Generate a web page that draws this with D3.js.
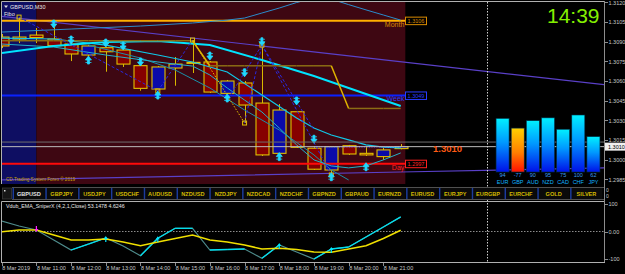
<!DOCTYPE html>
<html>
<head>
<meta charset="utf-8">
<script src="https://cdn.jsdelivr.net/npm/d3@7"></script>
<style>
  body { margin: 0; background: #000; overflow: hidden; }
  svg { display: block; }
  text { font-family: "Liberation Sans", Arial, sans-serif; }
  .axis path, .axis line { stroke: #8c8c8c; shape-rendering: crispEdges; }
  .axis text { fill: #c8c8c8; font-size: 5.5px; }
</style>
</head>
<body>
<script>
var svgWidth = 625;
var svgHeight = 274;

// GBPUSD M30 candles, 8 Mar 2019
var candleTimes = ["10:00", "10:30", "11:00", "11:30", "12:00", "12:30", "13:00", "13:30",
    "14:00", "14:30", "15:00", "15:30", "16:00", "16:30", "17:00", "17:30",
    "18:00", "18:30", "19:00", "19:30", "20:00", "20:30", "21:00", "21:30"];
var openP  = [1.30935, 1.30935, 1.30950, 1.30920, 1.30882, 1.30798, 1.30854, 1.30836, 1.30717, 1.30539, 1.30699, 1.30741,
              1.30745, 1.30506, 1.30585, 1.30432, 1.30049, 1.30366, 1.30088, 1.29922, 1.30107, 1.30049, 1.30024, 1.30085];
var highP  = [1.30958, 1.31087, 1.31004, 1.31011, 1.30889, 1.30874, 1.30859, 1.30844, 1.30729, 1.30714, 1.30783, 1.30912,
              1.30752, 1.30608, 1.30600, 1.30874, 1.30425, 1.30372, 1.30097, 1.30105, 1.30113, 1.30105, 1.30090, 1.30120];
var lowP   = [1.30851, 1.30889, 1.30889, 1.30867, 1.30752, 1.30790, 1.30671, 1.30707, 1.30526, 1.30524, 1.30564, 1.30661,
              1.30509, 1.30501, 1.30280, 1.30029, 1.30037, 1.30090, 1.29922, 1.29884, 1.30037, 1.30029, 1.29999, 1.30080];
var closeP = [1.30867, 1.30920, 1.30931, 1.30869, 1.30806, 1.30867, 1.30823, 1.30729, 1.30544, 1.30707, 1.30729, 1.30742,
              1.30516, 1.30600, 1.30417, 1.30037, 1.30379, 1.30095, 1.29928, 1.30100, 1.30044, 1.30037, 1.30075, 1.30100];

// moving averages / bands (candle index, price)
var slowMaIdx = [0, 3, 6, 9, 12, 15, 18, 21, 23];
var slowMa    = [1.30813, 1.30867, 1.30897, 1.30905, 1.30874, 1.30760, 1.30638, 1.30501, 1.30410];
var midMaIdx  = [0, 3, 6, 9, 11, 13, 15, 17, 18, 19, 20, 21, 22, 23];
var midMa     = [1.30927, 1.30920, 1.30874, 1.30798, 1.30745, 1.30669, 1.30493, 1.30318, 1.30242, 1.30189, 1.30151, 1.30113, 1.30097, 1.30090];
var fastMaIdx = [0, 3, 6, 9, 10, 11, 12, 13, 14, 15, 16, 17, 18, 19, 20, 21, 22, 23];
var fastMa    = [1.30882, 1.30859, 1.30798, 1.30745, 1.30729, 1.30714, 1.30646, 1.30547, 1.30455, 1.30364, 1.30242, 1.30113,
                 1.29999, 1.29953, 1.29938, 1.29953, 1.29999, 1.30052];
var steepIdx  = [5, 8, 10, 12, 14, 16, 18, 19, 20];
var steep     = [1.30874, 1.30775, 1.30684, 1.30547, 1.30379, 1.30227, 1.30037, 1.29922, 1.29846];
var bandTopIdx = [0, 4, 8, 11, 13, 14, 15, 16, 17, 18, 19, 20, 21, 22, 23];
var bandTop    = [1.30973, 1.30996, 1.31019, 1.31042, 1.31064, 1.31080, 1.31118, 1.31156, 1.31198, 1.31232, 1.31224,
                  1.31182, 1.31142, 1.31103, 1.31064];
var stepLine = [1.30907, 1.30907, 1.30907, 1.30907, 1.30907, 1.30907, 1.30907, 1.30907, 1.30907, 1.30907, 1.30907, 1.30907,
                1.30716, 1.30716, 1.30716, 1.30716, 1.30716, 1.30716, 1.30716, 1.30716, 1.30391, 1.30391, 1.30391, 1.30391];

// regression channel (time, price)
var channelTopTimes = ["2019-03-08 10:00", "2019-03-09 03:25"];
var channelTop      = [1.31092, 1.30570];
var channelBotTimes = ["2019-03-08 10:00", "2019-03-08 21:30", "2019-03-09 03:25"];
var channelBot      = [1.29846, 1.29907, 1.29938];

// zigzag and fan
var zigzagIdx   = [1, 9, 11, 14, 15, 19];
var zigzagPrice = [1.31087, 1.30524, 1.30912, 1.30280, 1.30874, 1.29884];
var fanIdx   = [13, 18];
var fanPrice = [1.30455, 1.30227];

// fractal arrows
var arrowDownIdx   = [3, 4, 6, 7, 8, 12, 14, 15, 17, 18];
var arrowDownPrice = [1.31034, 1.30912, 1.30889, 1.30867, 1.30745, 1.30790, 1.30663, 1.30899, 1.30448, 1.30156];
var arrowUpIdx     = [5, 9, 13, 16, 19, 21];
var arrowUpPrice   = [1.30760, 1.30493, 1.30471, 1.30024, 1.29871, 1.29947];

// pivot levels
var levelNames  = ["Month", "Week", "Day"];
var levelPrices = [1.3106, 1.3049, 1.2997];
var bidPrice = 1.3010;
var askPrice = 1.30135;

// sessions
var sessionTimes = [["2019-03-08 09:00", "2019-03-08 11:00"], ["2019-03-08 11:00", "2019-03-08 21:38"]];
var dayBreak = "2019-03-09 00:00";

// Vdub_EMA_SniperX
var sniperFast = [38.2, 20, 5.5, -30.9, -67.3, -45.5, -23.6, -52.7, -88, -24.7, 11.6, 11.6,
                  -67.3, -65.5, -63.6, -97.5, -49.1, -74.5, -100, -63.6, -56.4, -20, 16.4, 53.1];
var sniperSlow = [-0.7, 5.5, 5.5, -12.7, -30.9, -30.9, -27.3, -38.2, -51.6, -38.2, -25.5, -12.7,
                  -30.9, -38.2, -49.1, -63.6, -61.1, -65.5, -74.5, -75.6, -63.6, -51.6, -25.5, 4.6];
var sniperBuyIdx  = [6, 9, 16, 19];
var sniperSellIdx = [2];

// axis ticks
var priceTicks = [1.2985, 1.3000, 1.3015, 1.3030, 1.3045, 1.3060, 1.3075, 1.3090, 1.3105, 1.3120];
var timeTicks = ["10:00", "11:00", "12:00", "13:00", "14:00", "15:00", "16:00", "17:00", "18:00", "19:00", "20:00", "21:00"];
var timeTickLabels = ["8 Mar 2019", "8 Mar 11:00", "8 Mar 12:00", "8 Mar 13:00", "8 Mar 14:00", "8 Mar 15:00",
                      "8 Mar 16:00", "8 Mar 17:00", "8 Mar 18:00", "8 Mar 19:00", "8 Mar 20:00", "8 Mar 21:00"];
var subTicks = [100, 0, -100];
var subTickLabels = ["100", "0.00", "-100"];

var pairButtons = ["GBPUSD", "GBPJPY", "USDJPY", "USDCHF", "AUDUSD", "NZDUSD", "NZDJPY", "NZDCAD", "NZDCHF",
                   "GBPNZD", "GBPAUD", "EURNZD", "EURUSD", "EURJPY", "EURGBP", "EURCHF", "GOLD", "SILVER"];

// currency strength meter
var currencies = ["EUR", "GBP", "AUD", "NZD", "CAD", "CHF", "JPY"];
var strength = [94, -77, 90, 95, 75, 100, 62];

var parseTime = d3.timeParse("%Y-%m-%d %H:%M");
function candleDate(s) { return parseTime("2019-03-08 " + s); }

var svg = d3.select("body").append("svg")
    .attr("width", svgWidth)
    .attr("height", svgHeight);

var main = { left: 2, right: 604, top: 2, bottom: 184 };
var sub = { top: 201, bottom: 262 };

var xTime = d3.scaleTime()
    .domain([candleDate("10:00"), candleDate("21:30")])
    .range([1.7, 400.7]);
var yMain = d3.scaleLinear().domain([1.29823, 1.31202]).range([183, 2]);
var ySub = d3.scaleLinear().domain([-100, 100]).range([259, 204]);

function xIdx(i) { return xTime(candleDate(candleTimes[i])); }

var defs = svg.append("defs");
defs.append("clipPath").attr("id", "clipMain").append("rect")
    .attr("x", main.left).attr("y", main.top)
    .attr("width", main.right - main.left).attr("height", main.bottom - main.top);
defs.append("clipPath").attr("id", "clipSub").append("rect")
    .attr("x", main.left).attr("y", sub.top + 1)
    .attr("width", main.right - main.left).attr("height", sub.bottom - sub.top - 1);

var gUp = defs.append("linearGradient").attr("id", "barUp").attr("x1", 0).attr("y1", 0).attr("x2", 0).attr("y2", 1);
gUp.append("stop").attr("offset", "0%").attr("stop-color", "#00f0ff");
gUp.append("stop").attr("offset", "45%").attr("stop-color", "#0098ff");
gUp.append("stop").attr("offset", "100%").attr("stop-color", "#0010e8");
var gDn = defs.append("linearGradient").attr("id", "barDown").attr("x1", 0).attr("y1", 0).attr("x2", 0).attr("y2", 1);
gDn.append("stop").attr("offset", "0%").attr("stop-color", "#ffd000");
gDn.append("stop").attr("offset", "55%").attr("stop-color", "#ff8000");
gDn.append("stop").attr("offset", "100%").attr("stop-color", "#ff1000");

svg.append("rect").attr("width", svgWidth).attr("height", svgHeight).attr("fill", "#000");

var chart = svg.append("g").attr("clip-path", "url(#clipMain)");

// session backgrounds
var sessionColors = ["#0e0e62", "#3e0712"];
chart.selectAll(".session")
    .data(sessionTimes)
    .enter()
    .append("rect")
    .attr("x", d => xTime(parseTime(d[0])))
    .attr("y", main.top)
    .attr("width", d => xTime(parseTime(d[1])) - xTime(parseTime(d[0])))
    .attr("height", main.bottom - main.top)
    .attr("fill", (d, i) => sessionColors[i]);

var line = d3.line().x(d => d[0]).y(d => d[1]);

// regression channel
chart.append("path")
    .attr("d", line(channelTopTimes.map((t, i) => [xTime(parseTime(t)), yMain(channelTop[i])])))
    .attr("fill", "none").attr("stroke", "#5a40c8").attr("stroke-width", 1.2);
chart.append("path")
    .attr("d", line(channelBotTimes.map((t, i) => [xTime(parseTime(t)), yMain(channelBot[i])])))
    .attr("fill", "none").attr("stroke", "#5a40c8").attr("stroke-width", 1.2);

// candles
var candles = chart.selectAll(".candle")
    .data(candleTimes)
    .enter()
    .append("g");

candles.append("line")
    .attr("x1", (d, i) => Math.round(xIdx(i)) + 0.5)
    .attr("x2", (d, i) => Math.round(xIdx(i)) + 0.5)
    .attr("y1", (d, i) => yMain(highP[i]))
    .attr("y2", (d, i) => yMain(lowP[i]))
    .attr("stroke", "#d8b800").attr("stroke-width", 1);

candles.append("rect")
    .attr("x", (d, i) => Math.round(xIdx(i)) - 6)
    .attr("width", 13)
    .attr("y", (d, i) => yMain(Math.max(openP[i], closeP[i])))
    .attr("height", (d, i) => Math.max(1, yMain(Math.min(openP[i], closeP[i])) - yMain(Math.max(openP[i], closeP[i]))))
    .attr("fill", (d, i) => closeP[i] >= openP[i] ? "#0a0aa8" : "#860000")
    .attr("stroke", "#e0c000").attr("stroke-width", 1.1);

// pivot level lines
var levelColors = ["#ffb000", "#0a22ff", "#ff0a0a"];
var levelTextColors = ["#d88a00", "#2a3cff", "#ff2020"];
var levelEnd = xTime(parseTime(sessionTimes[1][1]));
chart.selectAll(".level")
    .data(levelPrices)
    .enter()
    .append("line")
    .attr("x1", main.left).attr("x2", levelEnd)
    .attr("y1", d => yMain(d)).attr("y2", d => yMain(d))
    .attr("stroke", (d, i) => levelColors[i]).attr("stroke-width", 2);

// upper band
chart.append("path")
    .attr("d", line(bandTopIdx.map((k, i) => [xIdx(k), yMain(bandTop[i])])))
    .attr("fill", "none").attr("stroke", "#2a8ccc").attr("stroke-width", 1);

// moving averages
chart.append("path")
    .attr("d", line(steepIdx.map((k, i) => [xIdx(k), yMain(steep[i])])))
    .attr("fill", "none").attr("stroke", "#1a90a8").attr("stroke-width", 1);
chart.append("path")
    .attr("d", line(fastMaIdx.map((k, i) => [xIdx(k), yMain(fastMa[i])])))
    .attr("fill", "none").attr("stroke", "#22b0c8").attr("stroke-width", 1);
chart.append("path")
    .attr("d", line(midMaIdx.map((k, i) => [xIdx(k), yMain(midMa[i])])))
    .attr("fill", "none").attr("stroke", "#10c8e8").attr("stroke-width", 1.2);
chart.append("path")
    .attr("d", line(slowMaIdx.map((k, i) => [xIdx(k), yMain(slowMa[i])])))
    .attr("fill", "none").attr("stroke", "#00e4ff").attr("stroke-width", 2);

// step line
stepLine.forEach(function(p, i) {
    if (i === 0) return;
    chart.append("line")
        .attr("x1", xIdx(i - 1)).attr("y1", yMain(stepLine[i - 1]))
        .attr("x2", xIdx(i)).attr("y2", yMain(p))
        .attr("stroke", p === stepLine[i - 1] ? "#8c6c14" : "#e0b400")
        .attr("stroke-width", 1.5);
});

// zigzag
zigzagIdx.forEach(function(k, i) {
    if (i === 0) return;
    var yellowLeg = (i === 3);
    chart.append("line")
        .attr("x1", xIdx(zigzagIdx[i - 1])).attr("y1", yMain(zigzagPrice[i - 1]))
        .attr("x2", xIdx(k)).attr("y2", yMain(zigzagPrice[i]))
        .attr("stroke", yellowLeg ? "#e0c000" : "#2a2ae0")
        .attr("stroke-width", 1)
        .attr("stroke-dasharray", yellowLeg ? "1.5,1.5" : "3,2");
});
fanIdx.forEach(function(k, i) {
    chart.append("line")
        .attr("x1", xIdx(15)).attr("y1", yMain(zigzagPrice[4]))
        .attr("x2", xIdx(k)).attr("y2", yMain(fanPrice[i]))
        .attr("stroke", "#2a2ae0").attr("stroke-width", 1).attr("stroke-dasharray", "3,2");
});
chart.append("line")
    .attr("x1", xIdx(18)).attr("x2", xIdx(23))
    .attr("y1", yMain(bidPrice)).attr("y2", yMain(bidPrice))
    .attr("stroke", "#2a3cff").attr("stroke-width", 1.5).attr("stroke-dasharray", "1,1.5");
chart.selectAll(".pivot")
    .data(zigzagIdx)
    .enter()
    .append("rect")
    .attr("x", d => xIdx(d) - 2).attr("width", 4)
    .attr("y", (d, i) => yMain(zigzagPrice[i]) - 2).attr("height", 4)
    .attr("fill", "none").attr("stroke", "#e0c000").attr("stroke-width", 1);

// fractal arrows
var arrowShape = "M-1,-4L1,-4L1,0L3,0L0,4L-3,0L-1,0Z M-3,-2.5L3,-2.5";
chart.selectAll(".arrowDown")
    .data(arrowDownIdx)
    .enter()
    .append("path")
    .attr("d", arrowShape)
    .attr("transform", (d, i) => `translate(${xIdx(d)}, ${yMain(arrowDownPrice[i])})`)
    .attr("fill", "#20d8ff").attr("stroke", "#20d8ff").attr("stroke-width", 0.8);
chart.selectAll(".arrowUp")
    .data(arrowUpIdx)
    .enter()
    .append("path")
    .attr("d", arrowShape)
    .attr("transform", (d, i) => `translate(${xIdx(d)}, ${yMain(arrowUpPrice[i])}) scale(1,-1)`)
    .attr("fill", "#20d8ff").attr("stroke", "#20d8ff").attr("stroke-width", 0.8);

// bid / ask lines
svg.append("line")
    .attr("x1", main.left).attr("x2", main.right)
    .attr("y1", yMain(askPrice)).attr("y2", yMain(askPrice))
    .attr("stroke", "#6e6e6e").attr("stroke-width", 1);
svg.append("line")
    .attr("x1", main.left).attr("x2", main.right)
    .attr("y1", yMain(bidPrice)).attr("y2", yMain(bidPrice))
    .attr("stroke", "#bcbcbc").attr("stroke-width", 1);

// level labels and price boxes
levelNames.forEach(function(name, i) {
    var y = yMain(levelPrices[i]);
    svg.append("text")
        .attr("x", levelEnd - 1).attr("y", y + 6)
        .attr("text-anchor", "end")
        .attr("font-size", "7px")
        .attr("fill", levelTextColors[i])
        .text(name);
    svg.append("rect")
        .attr("x", 405.5).attr("y", y - 3.5)
        .attr("width", 21).attr("height", 7.5)
        .attr("fill", "#000").attr("stroke", levelTextColors[i]).attr("stroke-width", 1);
    svg.append("text")
        .attr("x", 416).attr("y", y + 2.2)
        .attr("text-anchor", "middle")
        .attr("font-size", "5.5px")
        .attr("fill", levelTextColors[i])
        .text(levelPrices[i].toFixed(4));
});

// current price text
svg.append("text")
    .attr("x", 433).attr("y", yMain(bidPrice) + 5)
    .attr("font-size", "9.5px").attr("font-weight", "bold")
    .attr("fill", "#ff5a14")
    .text(bidPrice.toFixed(4));

// currency strength meter
var xBar = d3.scaleBand().domain(currencies).range([495, 601]).paddingInner(0.14).paddingOuter(0.07);
var hBar = d3.scaleLinear().domain([0, 100]).range([0, 57]);
var barBase = 172;
svg.selectAll(".bar")
    .data(currencies)
    .enter()
    .append("rect")
    .attr("x", d => xBar(d))
    .attr("width", xBar.bandwidth())
    .attr("y", (d, i) => barBase - hBar(Math.abs(strength[i])))
    .attr("height", (d, i) => hBar(Math.abs(strength[i])))
    .attr("fill", (d, i) => strength[i] < 0 ? "url(#barDown)" : "url(#barUp)")
    .attr("stroke", "#003048").attr("stroke-width", 0.6);
svg.selectAll(".barValue")
    .data(currencies)
    .enter()
    .append("text")
    .attr("x", d => xBar(d) + xBar.bandwidth() / 2)
    .attr("y", 176.5)
    .attr("text-anchor", "middle")
    .attr("font-size", "5.5px")
    .attr("fill", "#3a9cf0")
    .text((d, i) => strength[i]);
svg.selectAll(".barName")
    .data(currencies)
    .enter()
    .append("text")
    .attr("x", d => xBar(d) + xBar.bandwidth() / 2)
    .attr("y", 184)
    .attr("text-anchor", "middle")
    .attr("font-size", "5.5px")
    .attr("fill", "#10b4ff")
    .text(d => d);

// clock
svg.append("text")
    .attr("x", 547).attr("y", 23)
    .attr("font-size", "21px")
    .attr("fill", "#84f000")
    .text("14:39");

// day separator
svg.append("line")
    .attr("x1", Math.round(xTime(parseTime(dayBreak))) + 0.5)
    .attr("x2", Math.round(xTime(parseTime(dayBreak))) + 0.5)
    .attr("y1", main.top).attr("y2", sub.bottom)
    .attr("stroke", "#d0d0d0").attr("stroke-width", 1).attr("stroke-dasharray", "1.5,1.5");

// chart titles
svg.append("path").attr("d", "M4,5.5L8,5.5L6,8Z").attr("fill", "#e0e0e0");
svg.append("text").attr("x", 10).attr("y", 8.5).attr("font-size", "5.5px").attr("fill", "#e8e8e8").text("GBPUSD,M30");
svg.append("text").attr("x", 4).attr("y", 15.5).attr("font-size", "5.5px").attr("fill", "#e8e8e8").text("Fibo");
svg.append("text").attr("x", 6).attr("y", 181).attr("font-size", "4.6px").attr("fill", "#c8a000")
    .text("CD.Trading System Forex © 2019");

// pair buttons
var btnStep = 32.8;
svg.append("rect").attr("x", 2.5).attr("y", 188).attr("width", 9).attr("height", 11)
    .attr("fill", "#161616").attr("stroke", "#3a3a3a").attr("stroke-width", 0.8);
svg.append("rect").attr("x", 4).attr("y", 190).attr("width", 1.5).attr("height", 1.5).attr("fill", "#e0e0e0");
svg.append("line").attr("x1", 12).attr("x2", 604).attr("y1", 187.5).attr("y2", 187.5).attr("stroke", "#505050");
svg.append("line").attr("x1", 12).attr("x2", 604).attr("y1", 199.5).attr("y2", 199.5).attr("stroke", "#505050");
var buttons = svg.selectAll(".btn")
    .data(pairButtons)
    .enter()
    .append("g")
    .attr("transform", (d, i) => `translate(${12.5 + i * btnStep}, 188)`);
buttons.append("rect")
    .attr("x", 1.5).attr("y", 0).attr("width", btnStep - 2).attr("height", 11)
    .attr("fill", "#0a0a0a");
buttons.append("rect")
    .attr("x", 0).attr("y", 0).attr("width", 1.5).attr("height", 11)
    .attr("fill", "#1c3c9c");
buttons.append("text")
    .attr("x", btnStep / 2).attr("y", 7.8)
    .attr("text-anchor", "middle")
    .attr("font-size", "5.6px").attr("font-weight", "bold")
    .attr("fill", (d, i) => i === 0 ? "#e0e0e0" : "#d2ba00")
    .text(d => d);
svg.append("text").attr("x", 606).attr("y", 192).attr("font-size", "5px").attr("fill", "#c8c8c8").text("0");
svg.append("text").attr("x", 606).attr("y", 197.5).attr("font-size", "5px").attr("fill", "#c8c8c8").text("0");

// frames
svg.append("path").attr("d", `M1.5,${main.bottom} V1.5 H${main.right}`)
    .attr("fill", "none").attr("stroke", "#b0b0b0").attr("stroke-width", 1);
svg.append("path").attr("d", `M1.5,${sub.bottom} V${sub.top + 0.5} H${main.right}`)
    .attr("fill", "none").attr("stroke", "#b0b0b0").attr("stroke-width", 1);
svg.append("line").attr("x1", main.right + 0.5).attr("x2", main.right + 0.5).attr("y1", 1).attr("y2", sub.bottom + 0.5)
    .attr("stroke", "#8c8c8c");

// price axis
var priceAxis = d3.axisRight(yMain)
    .tickValues(priceTicks)
    .tickSize(3)
    .tickSizeOuter(0)
    .tickFormat(d3.format(".4f"));
var pAxis = svg.append("g")
    .attr("class", "axis")
    .attr("transform", `translate(${main.right + 0.5}, 0)`)
    .call(priceAxis);
pAxis.select(".domain").remove();
pAxis.selectAll("text").attr("x", 4);

// bid box on axis
svg.append("rect").attr("x", main.right + 1).attr("y", yMain(bidPrice) - 4)
    .attr("width", 20).attr("height", 8).attr("fill", "#f0f0f0");
svg.append("text").attr("x", main.right + 4).attr("y", yMain(bidPrice) + 2)
    .attr("font-size", "5.5px").attr("fill", "#000").text(bidPrice.toFixed(4));

// sub window
var subG = svg.append("g").attr("clip-path", "url(#clipSub)");
subG.append("line")
    .attr("x1", main.left).attr("x2", main.right)
    .attr("y1", ySub(0)).attr("y2", ySub(0))
    .attr("stroke", "#8c8c8c").attr("stroke-dasharray", "1.5,1.5");

var slowPts = sniperSlow.map((v, i) => [xIdx(i), ySub(v)]);
var fastPts = sniperFast.map((v, i) => [xIdx(i), ySub(v)]);
subG.append("path").attr("d", line(fastPts))
    .attr("fill", "none").attr("stroke", "#4e8c8c").attr("stroke-width", 1.2);
fastPts.forEach(function(p, i) {
    if (i === 0 || sniperFast[i] < sniperFast[i - 1]) return;
    subG.append("line")
        .attr("x1", fastPts[i - 1][0]).attr("y1", fastPts[i - 1][1])
        .attr("x2", p[0]).attr("y2", p[1])
        .attr("stroke", "#00e0f0").attr("stroke-width", 1.3);
});
subG.append("path").attr("d", line(slowPts))
    .attr("fill", "none").attr("stroke", "#f0e000").attr("stroke-width", 1.5);

var smallArrow = "M-0.6,-3L0.6,-3L0.6,0L2,0L0,3L-2,0L-0.6,0Z";
subG.selectAll(".buy")
    .data(sniperBuyIdx)
    .enter()
    .append("path")
    .attr("d", smallArrow)
    .attr("transform", d => `translate(${xIdx(d)}, ${ySub(sniperFast[d]) + 1}) scale(1,-1)`)
    .attr("fill", "#00e8ff");
subG.selectAll(".sell")
    .data(sniperSellIdx)
    .enter()
    .append("path")
    .attr("d", smallArrow)
    .attr("transform", d => `translate(${xIdx(d)}, ${ySub(sniperFast[d]) - 1})`)
    .attr("fill", "#ff20ff");

svg.append("text").attr("x", 6).attr("y", 208).attr("font-size", "5.3px").attr("fill", "#e8e8e8")
    .text("Vdub_EMA_SniperX (4,2,1,Close) 53.1478 4.6246");

var subAxis = d3.axisRight(ySub)
    .tickValues(subTicks)
    .tickSize(3)
    .tickFormat((d, i) => subTickLabels[i]);
var sAxis = svg.append("g")
    .attr("class", "axis")
    .attr("transform", `translate(${main.right + 0.5}, 0)`)
    .call(subAxis);
sAxis.select(".domain").remove();
sAxis.selectAll("text").attr("x", 4);

// time axis
svg.append("line").attr("x1", 1).attr("x2", main.right + 1).attr("y1", sub.bottom + 0.5).attr("y2", sub.bottom + 0.5)
    .attr("stroke", "#b0b0b0");
var timeAxis = d3.axisBottom(xTime)
    .tickValues(timeTicks.map(candleDate))
    .tickSize(3)
    .tickFormat((d, i) => timeTickLabels[i]);
var tAxis = svg.append("g")
    .attr("class", "axis")
    .attr("transform", `translate(0, ${sub.bottom + 0.5})`)
    .call(timeAxis);
tAxis.select(".domain").remove();
tAxis.selectAll("text")
    .attr("text-anchor", "start")
    .attr("x", 0)
    .attr("y", 4)
    .attr("dy", "0.71em");
</script>
</body>
</html>
